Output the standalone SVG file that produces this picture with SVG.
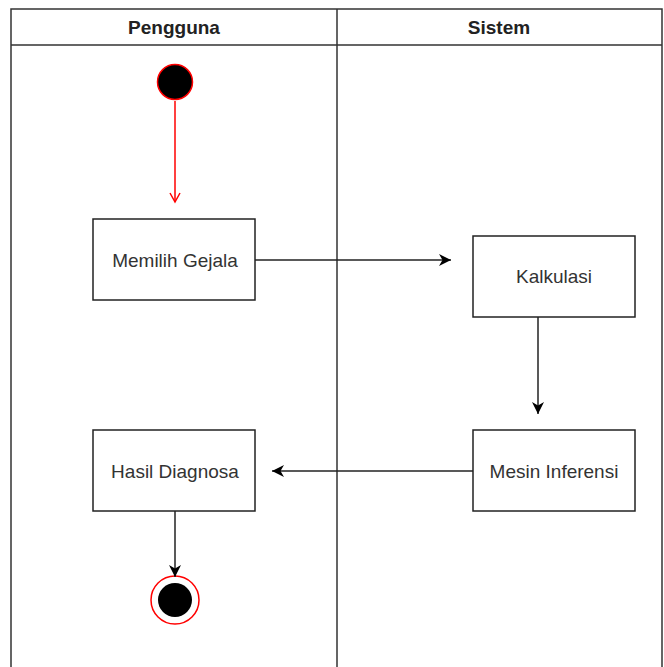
<svg xmlns="http://www.w3.org/2000/svg" width="664" height="667" viewBox="0 0 664 667">
<defs>
<style>
.lane{fill:none;stroke:#333;stroke-width:1.5}
.box{fill:#fff;stroke:#222;stroke-width:1.5}
.hdr{font-family:"Liberation Sans",Arial,sans-serif;font-size:19px;font-weight:bold;fill:#222;text-anchor:middle}
.lbl{font-family:"Liberation Sans",Arial,sans-serif;font-size:19px;fill:#333;text-anchor:middle}
.edge{fill:none;stroke:#222;stroke-width:1.5}
</style>
<marker id="ah" markerWidth="13" markerHeight="13" refX="12" refY="6.5" orient="auto" markerUnits="userSpaceOnUse">
<path d="M0,0.5 L12,6.5 L0,12.5 L3.5,6.5 Z" fill="#000"/>
</marker>
<marker id="ahr" markerWidth="12" markerHeight="12" refX="10" refY="6" orient="auto" markerUnits="userSpaceOnUse">
<path d="M1,1 L10,6 L1,11" fill="none" stroke="#f00" stroke-width="1.5"/>
</marker>
</defs>
<rect width="664" height="667" fill="#fff"/>
<g id="lanes">
<path class="lane" d="M11,668 V9 H662 V668 M11,45 H662 M337,9 V668"/>
<text class="hdr" x="174" y="34">Pengguna</text>
<text class="hdr" x="499" y="34">Sistem</text>
</g>
<g id="start">
<circle cx="175" cy="82" r="17.5" fill="#000" stroke="#f00" stroke-width="1.5"/>
</g>
<g id="memilih">
<rect class="box" x="93" y="219" width="162" height="81"/>
<text class="lbl" x="175" y="267">Memilih Gejala</text>
</g>
<g id="kalkulasi">
<rect class="box" x="473" y="236" width="162" height="81"/>
<text class="lbl" x="554" y="283">Kalkulasi</text>
</g>
<g id="mesin">
<rect class="box" x="473" y="430" width="162" height="81"/>
<text class="lbl" x="554" y="478">Mesin Inferensi</text>
</g>
<g id="hasil">
<rect class="box" x="93" y="430" width="162" height="81"/>
<text class="lbl" x="175" y="478">Hasil Diagnosa</text>
</g>
<g id="end">
<circle cx="175" cy="600" r="24" fill="#fff" stroke="#f00" stroke-width="1.5"/>
<circle cx="175" cy="600" r="17" fill="#000"/>
</g>
<g id="connectors">
<line x1="175" y1="101" x2="175" y2="202" stroke="#f00" stroke-width="1.5" marker-end="url(#ahr)"/>
<line class="edge" x1="255" y1="260" x2="451" y2="260" marker-end="url(#ah)"/>
<line class="edge" x1="538" y1="317" x2="538" y2="414" marker-end="url(#ah)"/>
<line class="edge" x1="473" y1="471" x2="272" y2="471" marker-end="url(#ah)"/>
<line class="edge" x1="175" y1="511" x2="175" y2="577" marker-end="url(#ah)"/>
</g>
</svg>
